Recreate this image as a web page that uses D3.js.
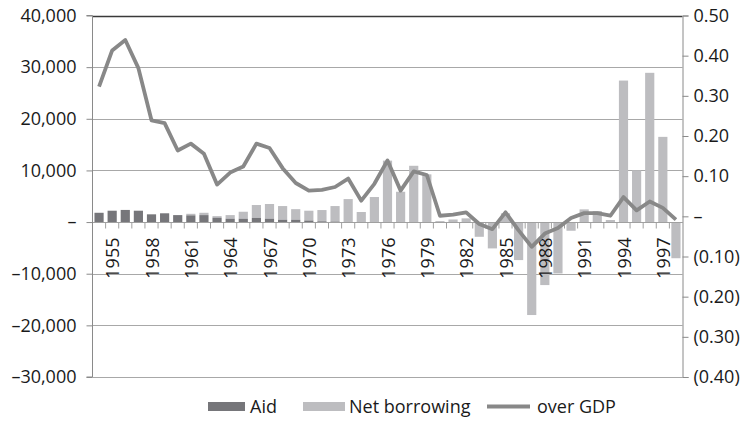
<!DOCTYPE html>
<html><head><meta charset="utf-8">
<script src="https://cdn.jsdelivr.net/npm/d3@7"></script>
<style>
body{margin:0;background:#fff;}
text{font-family:"Open Sans",sans-serif;fill:#1a1a1a;}
</style></head>
<body><svg id="c" width="749" height="421"></svg>
<script>
const years = d3.range(1954, 1999);
const aid = [1800,2200,2350,2200,1500,1700,1350,1300,1350,850,650,650,800,650,450,450,300,150,100,0,0,0,0,0,0,0,0,0,0,0,0,0,0,0,0,0,0,0,0,0,0,0,0,0,0];
const netBorrowing = [0,0,0,0,0,0,0,300,450,300,700,1350,2500,2850,2650,2050,1900,2180,3000,4450,1950,4850,11900,5870,10900,9240,190,500,720,-2850,-5100,1700,-7360,-18000,-12200,-9950,-1680,2460,2130,400,27400,10000,28900,16500,-7000];
const overGDP = [0.323,0.413,0.439,0.369,0.239,0.232,0.164,0.181,0.156,0.079,0.109,0.124,0.181,0.170,0.120,0.083,0.064,0.066,0.073,0.094,0.039,0.081,0.139,0.064,0.112,0.103,0.0015,0.004,0.010,-0.019,-0.032,0.010,-0.035,-0.076,-0.043,-0.029,-0.004,0.008,0.008,0.0015,0.048,0.015,0.037,0.021,-0.008];
const leftTicks = [-30000,-20000,-10000,0,10000,20000,30000,40000];
const rightTicks = [-0.4,-0.3,-0.2,-0.1,0,0.1,0.2,0.3,0.4,0.5];
const labelYears = years.filter(y => (y - 1955) % 3 === 0);

const svg = d3.select("#c");
const L = 92.5, R = 682.5, T = 15.5, B = 377;
const x = d3.scaleBand().domain(years).range([L, R]).paddingInner(0.3).paddingOuter(0.15);
const yL = d3.scaleLinear().domain([-30000, 40000]).range([B, T]);
const yR = d3.scaleLinear().domain([-0.4, 0.5]).range([B, T]);

const fmtL = v => v === 0 ? "–" : (v < 0 ? "–" + d3.format(",")(-v) : d3.format(",")(v));
const fmtR = v => Math.abs(v) < 1e-9 ? "–" : (v < 0 ? "(" + d3.format(".2f")(-v) + ")" : d3.format(".2f")(v));

svg.append("g").selectAll("line").data(leftTicks).join("line")
  .attr("x1", L).attr("x2", R).attr("y1", d => Math.round(yL(d)) + 0.5).attr("y2", d => Math.round(yL(d)) + 0.5)
  .attr("stroke", d => d === 40000 ? "#3a3a3a" : "#a8a8a8").attr("stroke-width", d => d === 40000 ? 1.6 : 1);

const g = svg.append("g");
g.selectAll("rect.nb").data(years).join("rect").attr("class", "nb")
  .attr("x", d => x(d)).attr("width", x.bandwidth())
  .attr("y", (d, i) => netBorrowing[i] >= 0 ? yL(aid[i] + netBorrowing[i]) : yL(0))
  .attr("height", (d, i) => netBorrowing[i] >= 0 ? yL(aid[i]) - yL(aid[i] + netBorrowing[i]) : yL(netBorrowing[i]) - yL(0))
  .attr("fill", "#bdbdc0");
g.selectAll("rect.aid").data(years).join("rect").attr("class", "aid")
  .attr("x", d => x(d)).attr("width", x.bandwidth())
  .attr("y", (d, i) => yL(aid[i])).attr("height", (d, i) => yL(0) - yL(aid[i]))
  .attr("fill", "#76767a");

const x0 = Math.round(yL(0)) + 0.5;
svg.append("line").attr("x1", L).attr("x2", R).attr("y1", x0).attr("y2", x0).attr("stroke", "#a0a0a0");
const bounds = years.map(d => x(d) - x.step() * 0.15);
svg.append("g").selectAll("line").data(bounds.slice(1)).join("line")
  .attr("x1", d => d).attr("x2", d => d).attr("y1", x0).attr("y2", x0 + 6).attr("stroke", "#a0a0a0");
svg.append("g").selectAll("text").data(labelYears).join("text")
  .attr("transform", d => `translate(${x(d) + x.bandwidth() / 2 + 7},${x0 + 15}) rotate(-90)`)
  .attr("text-anchor", "end").attr("font-size", 18).text(d => d);

const line = d3.line().x((d, i) => x(years[i]) + x.bandwidth() / 2).y(d => yR(d));
svg.append("path").datum(overGDP).attr("d", line).attr("fill", "none")
  .attr("stroke", "#888888").attr("stroke-width", 3.8).attr("stroke-linejoin", "round");

const axL = svg.append("g").attr("transform", `translate(${L},0)`)
  .call(d3.axisLeft(yL).tickValues(leftTicks).tickFormat(fmtL).tickSize(6).tickPadding(10));
axL.select(".domain").attr("stroke", "#8a8a8a").attr("d", `M-6,${T}H0V${B}H-6`);
axL.selectAll(".tick line").attr("stroke", "#8a8a8a");
axL.selectAll(".tick text").attr("font-size", 18).attr("font-family", "Open Sans").attr("fill", "#1a1a1a");

const axR = svg.append("g").attr("transform", `translate(${R},0)`)
  .call(d3.axisRight(yR).tickValues(rightTicks).tickFormat(fmtR).tickSize(6).tickPadding(5));
axR.select(".domain").attr("stroke", "#8a8a8a");
axR.selectAll(".tick line").attr("stroke", "#8a8a8a");
axR.selectAll(".tick text").attr("font-size", 18).attr("font-family", "Open Sans").attr("fill", "#1a1a1a");

const lg = svg.append("g");
lg.append("rect").attr("x", 208).attr("y", 402).attr("width", 37).attr("height", 9).attr("fill", "#76767a");
lg.append("text").attr("x", 250).attr("y", 413).attr("font-size", 18).text("Aid");
lg.append("rect").attr("x", 303).attr("y", 402).attr("width", 42).attr("height", 9).attr("fill", "#bdbdc0");
lg.append("text").attr("x", 349).attr("y", 413).attr("font-size", 18).text("Net borrowing");
lg.append("line").attr("x1", 487).attr("x2", 530).attr("y1", 406.5).attr("y2", 406.5).attr("stroke", "#888888").attr("stroke-width", 3.8);
lg.append("text").attr("x", 537).attr("y", 413).attr("font-size", 18).text("over GDP");
</script></body></html>
